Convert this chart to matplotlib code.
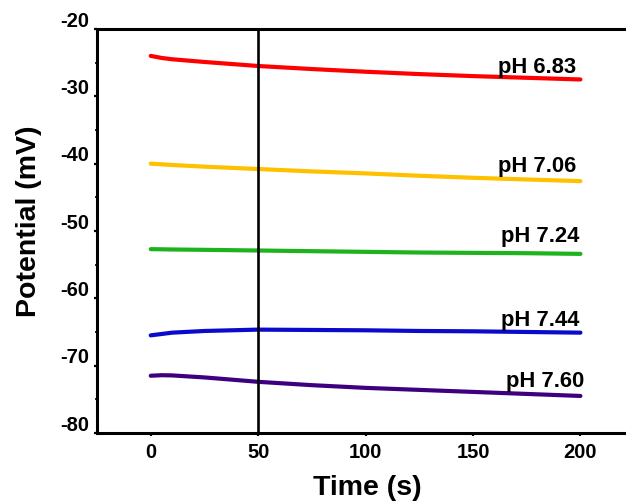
import matplotlib
matplotlib.use('Agg')
import matplotlib.pyplot as plt
import matplotlib.transforms as mtransforms
from matplotlib.ticker import MultipleLocator

plt.rcParams['font.family'] = ['Liberation Sans', 'DejaVu Sans']
plt.rcParams['font.weight'] = 'bold'
plt.rcParams['axes.unicode_minus'] = False

# time axis (s) and potential traces (mV)
time_s = [0, 5, 10, 25, 50, 75, 100, 125, 150, 175, 200]
ph_683 = [-24.0, -24.3, -24.5, -24.9, -25.5, -25.95, -26.35, -26.7, -27.0, -27.25, -27.5]
ph_706 = [-40.0, -40.1, -40.2, -40.45, -40.8, -41.15, -41.45, -41.8, -42.1, -42.35, -42.6]
ph_724 = [-52.7, -52.72, -52.75, -52.8, -52.9, -53.0, -53.1, -53.2, -53.25, -53.3, -53.4]
ph_744 = [-65.5, -65.3, -65.1, -64.85, -64.65, -64.7, -64.75, -64.85, -64.9, -65.0, -65.1]
ph_760 = [-71.5, -71.42, -71.45, -71.75, -72.4, -72.9, -73.3, -73.6, -73.9, -74.2, -74.5]

labels = ['pH 6.83', 'pH 7.06', 'pH 7.24', 'pH 7.44', 'pH 7.60']
colors = ['#ff0000', '#ffc000', '#1db31d', '#0a0acc', '#3f0080']
# where the pH labels sit (right edge x, baseline y)
label_x = [198.2, 198.2, 199.4, 199.4, 201.7]
label_y = [-26.5, -41.3, -51.6, -64.1, -73.1]

fig = plt.figure(figsize=(6.26, 5.03), dpi=100)
ax = fig.add_axes([0.155, 0.1392, 0.858, 0.8032])

series = [ph_683, ph_706, ph_724, ph_744, ph_760]
for vals, col in zip(series, colors):
    ax.plot(time_s, vals, color=col, lw=3, solid_capstyle='round')

for txt, x, y in zip(labels, label_x, label_y):
    ax.text(x, y, txt, ha='right', va='baseline', fontsize=15.8, fontweight='bold')

ax.axvline(50, color='black', lw=1.9)

ax.set_xlim(-25, 225)
ax.set_ylim(-80, -20)
ax.set_xticks([0, 50, 100, 150, 200])
ax.set_yticks([-80, -70, -60, -50, -40, -30, -20])
ax.xaxis.set_minor_locator(MultipleLocator(25))
ax.yaxis.set_minor_locator(MultipleLocator(5))

for s in ax.spines.values():
    s.set_linewidth(2.2)
ax.spines['right'].set_visible(False)

ax.tick_params(which='major', direction='out', length=2.5, width=1.6, labelsize=14.5, pad=3)
ax.tick_params(which='minor', direction='out', length=1.2, width=1.2)
ax.tick_params(axis='x', which='major', pad=5)

# Origin puts the y tick labels a bit above their ticks
offset = mtransforms.ScaledTranslation(0, 7 / 72, fig.dpi_scale_trans)
for lab in ax.get_yticklabels():
    lab.set_transform(lab.get_transform() + offset)

ax.set_xlabel('Time (s)', fontsize=20.5, fontweight='bold')
ax.set_ylabel('Potential (mV)', fontsize=20.5, fontweight='bold')
ax.xaxis.set_label_coords(0.503, -0.136)
ax.xaxis.label.set_va('center')
ax.yaxis.set_label_coords(-0.1266, 0.525)
ax.yaxis.label.set_va('center')

fig.savefig('out.png', dpi=100)
